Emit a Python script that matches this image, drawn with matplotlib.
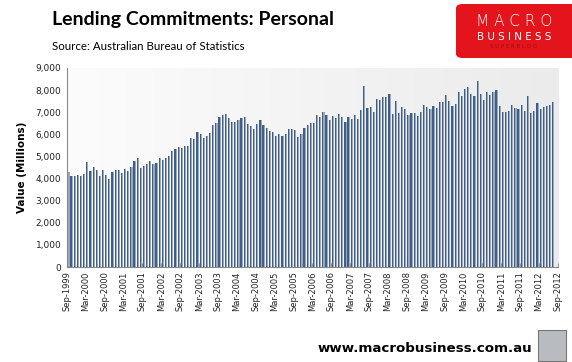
import numpy as np
import matplotlib.pyplot as plt
from matplotlib.patches import FancyBboxPatch, Rectangle
from matplotlib.ticker import FuncFormatter

# monthly personal lending commitments, $m, Sep 1999 - Jul 2012
values = [4300, 4120, 4120, 4160, 4120, 4210, 4750, 4340, 4520, 4390, 4120, 4390, 4160,
          3980, 4300, 4390, 4390, 4250, 4430, 4340, 4520, 4800, 4930, 4480, 4570, 4660,
          4800, 4660, 4710, 4930, 4840, 4930, 5020, 5250, 5340, 5430, 5380, 5480, 5480,
          5840, 5790, 6110, 6020, 5840, 5930, 6060, 6430, 6520, 6790, 6880, 6920,
          6740, 6560, 6560, 6650, 6740, 6790, 6470, 6380, 6240, 6470, 6650, 6430, 6290,
          6150, 6110, 5930, 6020, 5930, 6020, 6240, 6240, 6200, 5880, 6020, 6290, 6430, 6520,
          6520, 6880, 6790, 7010, 6880, 6650, 6830, 6740, 6920, 6790, 6560, 6790, 6700,
          6880, 6700, 7100, 8190, 7190, 7240, 7010, 7600, 7560, 7690, 7690, 7830, 6920, 7510,
          6970, 7240, 7150, 6880, 6970, 6970, 6830, 7010, 7330, 7240, 7150, 7290, 7190,
          7470, 7470, 7780, 7510, 7290, 7380, 7920, 7740, 8050, 8140, 7830, 7740, 8420,
          7830, 7560, 7920, 7780, 7920, 8010, 7290, 7010, 7010, 7060, 7330, 7190,
          7150, 7330, 7060, 7740, 6970, 7060, 7420, 7150, 7240, 7290, 7330, 7470]

tick_labels = []
for yr in range(1999, 2013):
    if yr > 1999:
        tick_labels.append(f'Mar-{yr}')
    tick_labels.append(f'Sep-{yr}')

fig = plt.figure(figsize=(5.72, 3.62), dpi=100)
ax = fig.add_axes([0.117, 0.2624, 0.8585, 0.5498])
ax.set_facecolor('none')

# background gradient of the plot area
grad = np.linspace(0, 1, 256).reshape(1, -1)
ax.imshow(grad, extent=[0, 1, 0, 1], transform=ax.transAxes, aspect='auto',
          cmap=plt.matplotlib.colors.LinearSegmentedColormap.from_list('bg', ['#fcfcfc', '#ebebeb']),
          zorder=0)

x = np.arange(len(values)) + 0.5
v = np.array(values)
ax.bar(x - 0.18, v, width=0.38, color='#3d5f8d', linewidth=0, zorder=2)
ax.bar(x + 0.17, v, width=0.34, color='#9ea8b6', linewidth=0, zorder=2)

ax.set_xlim(0, 156)
ax.set_ylim(0, 9000)
ax.set_xticks(np.arange(0, 157, 6))
ax.set_xticklabels(tick_labels, rotation=90, fontsize=6, family='DejaVu Sans', color='#222222')
ax.set_yticks(np.arange(0, 9001, 1000))
ax.yaxis.set_major_formatter(FuncFormatter(lambda val, p: f'{int(val):,}'))
ax.tick_params(axis='y', labelsize=6.5, colors='#222222', length=0, pad=4)
ax.tick_params(axis='x', direction='in', length=3, color='#999999', pad=3)
for s in ['top', 'right']:
    ax.spines[s].set_visible(False)
for s in ['left', 'bottom']:
    ax.spines[s].set_color('#888888')
    ax.spines[s].set_linewidth(0.8)
ax.set_ylabel('Value (Millions)', fontsize=7.5, fontweight='bold', family='DejaVu Sans', labelpad=6)

fig.text(52 / 572, 1 - 19 / 362, 'Lending Commitments: Personal', fontsize=14, fontweight='bold',
         family='Lato', va='center', ha='left')
fig.text(52 / 572, 1 - 47 / 362, 'Source: Australian Bureau of Statistics', fontsize=8.3,
         family='Lato', va='center', ha='left')

# logo
logo = FancyBboxPatch((456 / 572, 1 - 58 / 362), 130 / 572, 54 / 362,
                      boxstyle='round,pad=0,rounding_size=0.012', transform=fig.transFigure,
                      facecolor='#e3141b', edgecolor='none')
fig.patches.append(logo)
fig.text(514 / 572, 1 - 22 / 362, 'M A C R O', fontsize=11, color='white', ha='center', va='center',
         family='DejaVu Sans', fontweight='light')
fig.text(514 / 572, 1 - 37 / 362, 'B U S I N E S S', fontsize=7.5, color='white', ha='center',
         va='center', family='DejaVu Sans')
fig.text(514 / 572, 1 - 47 / 362, 'S U P E R B L O G', fontsize=4, color='#a01015', ha='center',
         va='center', family='DejaVu Sans')

fig.text(532 / 572, 1 - 349 / 362, 'www.macrobusiness.com.au', fontsize=9.6, fontweight='bold',
         family='DejaVu Sans', ha='right', va='center')
fig.patches.append(Rectangle((538 / 572, 1 - 361 / 362), 28 / 572, 31 / 362, transform=fig.transFigure,
                             facecolor='#b8bcc0', edgecolor='#777777', linewidth=0.8))

fig.savefig('out.png', dpi=100, facecolor='white')
